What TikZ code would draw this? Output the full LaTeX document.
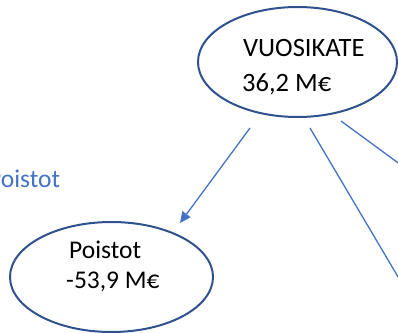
\documentclass[tikz,border=0pt]{standalone}
\usepackage{fontspec}
\setmainfont{Carlito}
\usetikzlibrary{arrows.meta,shapes.geometric}
\definecolor{rim}{HTML}{2F528F}
\definecolor{line}{HTML}{4472C4}

\begin{document}
\begin{tikzpicture}[x=1pt,y=-1pt,>={Triangle[length=11pt,width=10pt]}]
		\useasboundingbox (0,0) rectangle (398,332);
		\clip (0,0) rectangle (398,332);
		%\draw [help lines] (0,0) grid (398,332);
		% Ellissi
		\node (vuosikate) [ellipse, draw=rim, line width=2pt, minimum width=199pt, minimum height=110pt, inner sep=0pt] at (297.5,62) {};
		\node (poistot) [ellipse, draw=rim, line width=2pt, minimum width=203pt, minimum height=110pt, inner sep=0pt] at (111.5,277) {};
		% Testi
		\node (vtitle) [anchor=base west, inner sep=0pt, font=\fontsize{26.5}{30}\selectfont] at (243,56) {VUOSIKATE};
		\node (vvalue) [anchor=base west, inner sep=0pt, font=\fontsize{26.5}{30}\selectfont] at (242,91) {36,2 M€};
		\node (ptitle) [anchor=base west, inner sep=0pt, font=\fontsize{25.5}{30}\selectfont] at (69,258) {Poistot};
		\node (pvalue) [anchor=base west, inner sep=0pt, font=\fontsize{25.5}{30}\selectfont] at (66,288) {-53,9 M€};
		\node (label) [anchor=base west, inner sep=0pt, text=line, font=\fontsize{25.5}{30}\selectfont] at (-12,187) {Poistot};
		% Frecce
		\coordinate (a1) at (250,128);
		\coordinate (a2) at (180,223);
		\coordinate (b1) at (310,128);
		\coordinate (b2) at (420,314);
		\coordinate (c1) at (341,121);
		\coordinate (c2) at (420,179);
		\draw [line, line width=1.3pt, ->] (a1) -- (a2);
		\draw [line, line width=1.3pt] (b1) -- (b2);
		\draw [line, line width=1.3pt] (c1) -- (c2);
	\end{tikzpicture}
\end{document}
